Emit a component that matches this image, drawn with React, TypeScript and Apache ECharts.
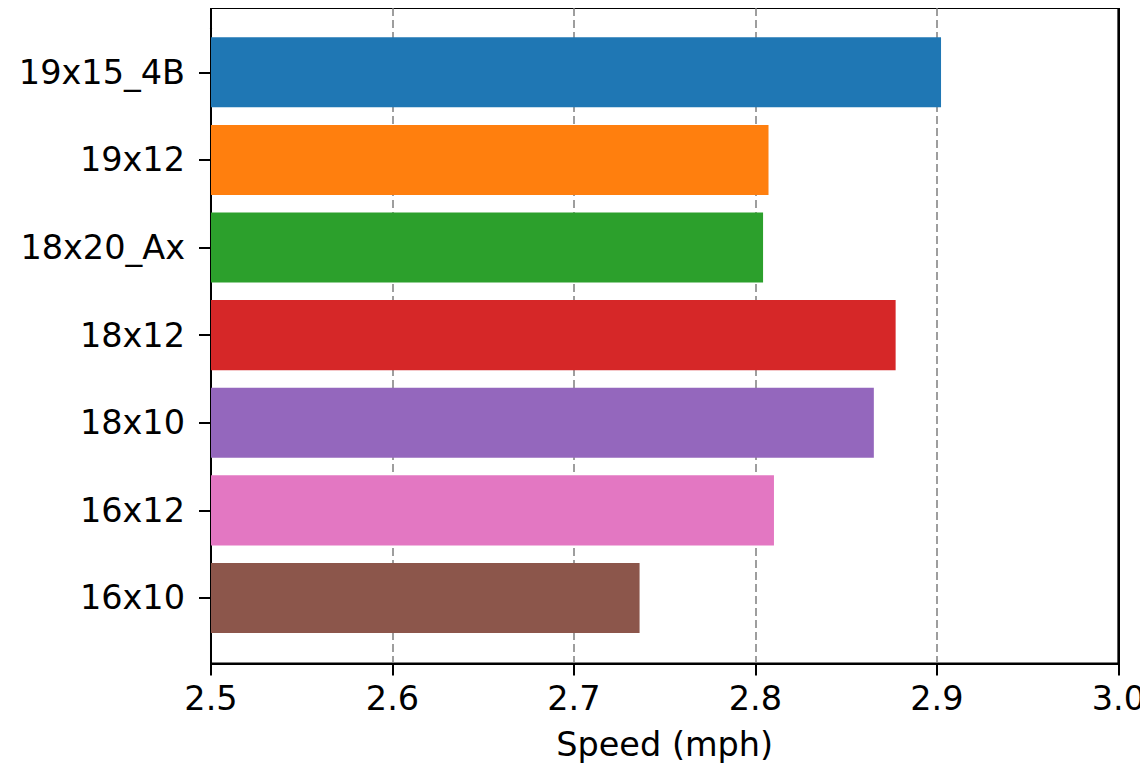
import React, { useEffect, useRef } from "react";
import * as echarts from "echarts";

// Propeller configurations, top to bottom
const propellers = ["19x15_4B", "19x12", "18x20_Ax", "18x12", "18x10", "16x12", "16x10"];
const speeds = [2.902, 2.807, 2.804, 2.877, 2.865, 2.81, 2.736];
const barColors = ["#1f77b4", "#ff7f0e", "#2ca02c", "#d62728", "#9467bd", "#e377c2", "#8c564b"];
const xMin = 2.5;
const xMax = 3.0;
const xStep = 0.1;

const FONT = "DejaVu Sans";
const FS = 33.5;

export default function App() {
  const ref = useRef<HTMLDivElement>(null);

  useEffect(() => {
    if (!ref.current) return;
    const chart = echarts.init(ref.current, undefined, { renderer: "svg" });

    const frameGrid = { left: 211, right: 29, top: 8, bottom: 112.5 };
    const barGrid = { left: 211, right: 29, top: 28.5, bottom: 134.2 };
    const spine = { show: true, lineStyle: { color: "#000", width: 2 } };

    chart.setOption({
      animation: false,
      backgroundColor: "#fff",
      grid: [
        { ...frameGrid, show: true, borderColor: "#000", borderWidth: 2, backgroundColor: "transparent" },
        { ...barGrid },
      ],
      xAxis: [
        {
          gridIndex: 0,
          type: "value",
          min: xMin,
          max: xMax,
          interval: xStep,
          name: "Speed (mph)",
          nameLocation: "middle",
          nameGap: 64,
          nameTextStyle: { fontFamily: FONT, fontSize: FS, color: "#000", verticalAlign: "top" },
          axisLine: spine,
          axisTick: { show: true, length: 12, inside: false, lineStyle: { color: "#000", width: 2 } },
          axisLabel: {
            margin: 18,
            fontFamily: FONT,
            fontSize: FS,
            color: "#000",
            formatter: (v: number) => v.toFixed(1),
          },
          splitLine: { show: true, lineStyle: { color: "#7f7f7f", width: 1.5, type: [8, 4] } },
        },
        {
          gridIndex: 1,
          type: "value",
          min: xMin,
          max: xMax,
          show: false,
        },
      ],
      yAxis: [
        {
          gridIndex: 0,
          type: "value",
          min: 0,
          max: 1,
          axisLine: spine,
          axisTick: { show: false },
          axisLabel: { show: false },
          splitLine: { show: false },
        },
        {
          gridIndex: 1,
          type: "category",
          data: propellers,
          inverse: true,
          axisLine: spine,
          axisTick: { show: true, length: 12, alignWithLabel: true, lineStyle: { color: "#000", width: 2 } },
          axisLabel: { margin: 26, fontFamily: FONT, fontSize: FS, color: "#000" },
          splitLine: { show: false },
        },
        {
          // right-hand spine of the frame, drawn above the gridlines
          gridIndex: 0,
          type: "value",
          position: "right",
          min: 0,
          max: 1,
          axisLine: { ...spine, onZero: false },
          axisTick: { show: false },
          axisLabel: { show: false },
          splitLine: { show: false },
        },
      ],
      series: [
        {
          type: "bar",
          xAxisIndex: 1,
          yAxisIndex: 1,
          barCategoryGap: "20%",
          data: speeds.map((v, i) => ({ value: v, itemStyle: { color: barColors[i] } })),
        },
      ],
    });

    return () => chart.dispose();
  }, []);

  return <div ref={ref} style={{ width: 1148, height: 776, margin: -8 }} />;
}
